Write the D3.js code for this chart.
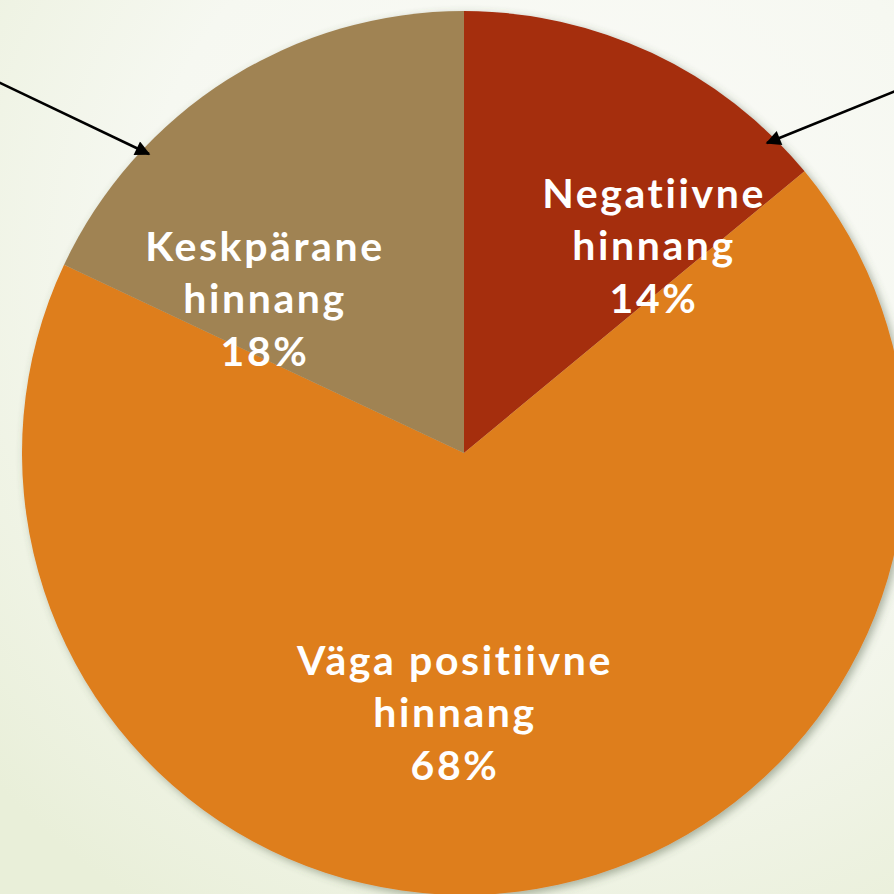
<!DOCTYPE html>
<html>
<head>
<meta charset="utf-8">
<script src="https://cdn.jsdelivr.net/npm/d3@7"></script>
<style>
  html, body { margin: 0; padding: 0; overflow: hidden; }
  svg { display: block; }
  .slice-label {
      font-family: "Lato", "Noto Sans", sans-serif;
      font-weight: 700;
      fill: #ffffff;
      font-variant-ligatures: none;
      font-feature-settings: "liga" 0;
      letter-spacing: 2.6px;
  }
</style>
</head>
<body>
<div id="chart"></div>
<script>
// Hinnangute jaotus (ringdiagramm)

const categories = ["Negatiivne hinnang", "Väga positiivne hinnang", "Keskpärane hinnang"];
const labelLines = [
    ["Negatiivne", "hinnang", "14%"],
    ["Väga positiivne", "hinnang", "68%"],
    ["Keskpärane", "hinnang", "18%"]
];
const values = [14, 68, 18];
const colors = ["#A52E10", "#DE7E1A", "#A08353"];

function createChart() {
    const width = 894, height = 894;
    const cx = 464, cy = 453;
    const radius = 442;

    // Sildi asukohad keskpunkti suhtes (käsitsi paigutatud nagu originaalis)
    const labelOffsets = [[190, -208], [-9, 259], [-199, -155]];
    const lineHeight = 52.5;

    const svg = d3.select("#chart")
        .append("svg")
        .attr("width", width)
        .attr("height", height);

    const defs = svg.append("defs");

    // Taust
    const bg = defs.append("radialGradient")
        .attr("id", "bg")
        .attr("cx", "62%").attr("cy", "30%").attr("r", "85%");
    bg.append("stop").attr("offset", "0%").attr("stop-color", "#FBFBF8");
    bg.append("stop").attr("offset", "55%").attr("stop-color", "#F6F8F1");
    bg.append("stop").attr("offset", "100%").attr("stop-color", "#E9EFD9");

    const shadow = defs.append("filter")
        .attr("id", "shadow")
        .attr("x", "-10%").attr("y", "-10%").attr("width", "120%").attr("height", "120%");
    shadow.append("feDropShadow")
        .attr("dx", 3).attr("dy", 3)
        .attr("stdDeviation", 4)
        .attr("flood-color", "#4a5a40")
        .attr("flood-opacity", 0.45);

    const marker = defs.append("marker")
        .attr("id", "arrow")
        .attr("viewBox", "0 0 10 10")
        .attr("refX", 9).attr("refY", 5)
        .attr("markerWidth", 7).attr("markerHeight", 6)
        .attr("markerUnits", "strokeWidth")
        .attr("orient", "auto");
    marker.append("path").attr("d", "M0,0 L10,5 L0,10 z").attr("fill", "#000");

    svg.append("rect")
        .attr("width", width).attr("height", height)
        .attr("fill", "url(#bg)");

    const pie = d3.pie().sort(null).value(d => d);
    const arcs = pie(values);
    const arc = d3.arc().innerRadius(0).outerRadius(radius);

    const g = svg.append("g")
        .attr("transform", `translate(${cx},${cy})`);

    g.append("g")
        .attr("filter", "url(#shadow)")
        .selectAll("path")
        .data(arcs)
        .enter()
        .append("path")
        .attr("d", arc)
        .attr("fill", (d, i) => colors[i]);

    // Sildid
    const labels = g.selectAll(".slice-label")
        .data(arcs)
        .enter()
        .append("text")
        .attr("class", "slice-label")
        .attr("text-anchor", "middle")
        .style("font-size", "41px")
        .attr("transform", (d, i) => `translate(${labelOffsets[i][0]},${labelOffsets[i][1]})`);

    labels.selectAll("tspan")
        .data((d, i) => labelLines[i])
        .enter()
        .append("tspan")
        .attr("x", 0)
        .attr("y", (t, j) => (j - 1) * lineHeight + 15)
        .text(t => t);

    // Nooled
    const arrows = [
        [[-4, 81], [149, 154]],
        [[898, 90], [767, 143]]
    ];
    svg.selectAll(".arrow")
        .data(arrows)
        .enter()
        .append("line")
        .attr("class", "arrow")
        .attr("x1", d => d[0][0]).attr("y1", d => d[0][1])
        .attr("x2", d => d[1][0]).attr("y2", d => d[1][1])
        .attr("stroke", "#000")
        .attr("stroke-width", 2.5)
        .attr("marker-end", "url(#arrow)");
}

createChart();
</script>
</body>
</html>
